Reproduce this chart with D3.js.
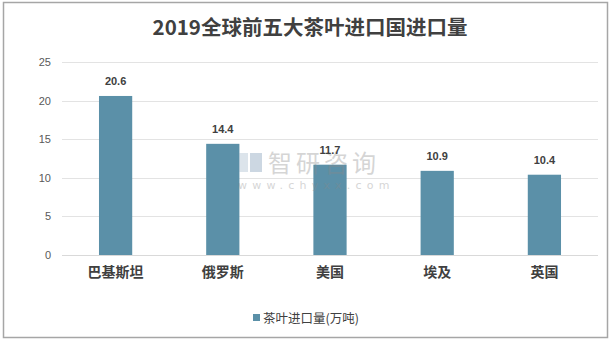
<!DOCTYPE html>
<html><head><meta charset="utf-8">
<script src="https://cdn.jsdelivr.net/npm/d3@7"></script>
<style>body{margin:0;background:#fff}svg{display:block}</style>
</head><body>
<svg id="c" width="613" height="343"></svg>
<script>
const title = "2019全球前五大茶叶进口国进口量";
const categories = ["巴基斯坦", "俄罗斯", "美国", "埃及", "英国"];
const values = [20.6, 14.4, 11.7, 10.9, 10.4];
const yTicks = [0, 5, 10, 15, 20, 25];
const seriesName = "茶叶进口量(万吨)";

const svg = d3.select("#c");
const font = "'Noto Sans CJK SC','Microsoft YaHei',sans-serif";
const barColor = "#5b90a8";

svg.append("rect").attr("x", 3.5).attr("y", 2.5).attr("width", 604).attr("height", 335)
  .attr("fill", "#fff").attr("stroke", "#a6a6a6").attr("stroke-width", 1.5);

svg.append("text").attr("x", 310).attr("y", 35).attr("text-anchor", "middle")
  .attr("font-family", font).attr("font-size", 20.5).attr("font-weight", "bold")
  .attr("fill", "#404040").text(title);

const pL = 62, pR = 598, pT = 62, pB = 255;
const x = d3.scaleBand().domain(categories).range([pL, pR]).paddingInner(0.69).paddingOuter(0.345);
const y = d3.scaleLinear().domain([0, 25]).range([pB, pT]);

// gridlines
svg.append("g").selectAll("line").data(yTicks).join("line")
  .attr("x1", pL).attr("x2", pR)
  .attr("y1", d => Math.round(y(d)) + 0.5).attr("y2", d => Math.round(y(d)) + 0.5)
  .attr("stroke", d => d === 0 ? "#d9d9d9" : "#e3e3e3").attr("stroke-width", 1);

// y axis labels
const yAxis = d3.axisLeft(y).tickValues(yTicks).tickSize(0).tickPadding(0);
const ya = svg.append("g").attr("transform", `translate(${pL - 11},0)`).call(yAxis);
ya.select(".domain").remove();
ya.selectAll("text").attr("font-family", "'Liberation Sans',Arial,sans-serif").attr("font-size", 11).attr("fill", "#595959");

// bars
svg.append("g").selectAll("rect").data(values).join("rect")
  .attr("x", (d, i) => x(categories[i]))
  .attr("width", x.bandwidth())
  .attr("y", d => y(d))
  .attr("height", d => y(0) - y(d))
  .attr("fill", barColor);

// watermark
const wm = svg.append("g").attr("opacity", 0.35);
wm.append("rect").attr("x", 239).attr("y", 153).attr("width", 9).attr("height", 19).attr("fill", "#9db4c8");
wm.append("rect").attr("x", 250).attr("y", 153).attr("width", 12).attr("height", 19).attr("fill", "#6f8fae");
wm.append("text").attr("x", 268).attr("y", 172).attr("font-family", font).attr("font-size", 24)
  .attr("fill", "#8a8a8a").attr("letter-spacing", 4).text("智研咨询");
wm.append("text").attr("x", 238).attr("y", 189).attr("font-family", "'DejaVu Sans',sans-serif").attr("font-size", 11)
  .attr("fill", "#8a8a8a").attr("letter-spacing", 5.2).text("www.chyxx.com");

// value labels
svg.append("g").selectAll("text").data(values).join("text")
  .attr("x", (d, i) => x(categories[i]) + x.bandwidth() / 2)
  .attr("y", d => y(d) - 11)
  .attr("text-anchor", "middle")
  .attr("font-family", "'Liberation Sans',Arial,sans-serif").attr("font-size", 11).attr("font-weight", "bold")
  .attr("fill", "#404040").text(d => d.toFixed(1));

// x axis labels
const xAxis = d3.axisBottom(x).tickSize(0).tickPadding(0);
const xa = svg.append("g").attr("transform", `translate(0,${pB + 12})`).call(xAxis);
xa.select(".domain").remove();
xa.selectAll("text").attr("font-family", font).attr("font-size", 14).attr("font-weight", "bold").attr("fill", "#404040");

// legend
svg.append("rect").attr("x", 253).attr("y", 314).attr("width", 7).attr("height", 7).attr("fill", barColor);
svg.append("text").attr("x", 263).attr("y", 322.5).attr("font-family", font).attr("font-size", 12.5)
  .attr("fill", "#404040").text(seriesName);
</script>
</body></html>
